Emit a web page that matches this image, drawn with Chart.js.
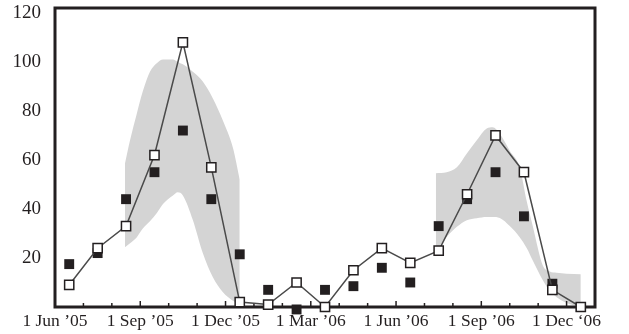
<!DOCTYPE html>
<html>
<head>
<meta charset="utf-8">
<script src="https://cdn.jsdelivr.net/npm/chart.js@4.4.0/dist/chart.umd.min.js"></script>
<style>
  html, body { margin: 0; padding: 0; background: #fff; }
  #chart { display: block; }
</style>
</head>
<body>
<canvas id="chart" width="629" height="334"></canvas>
<script>
// eixo x em meses a partir de 1 Jun '05
const tickLabels = ['1 Jun \u201905', '1 Sep \u201905', '1 Dec \u201905', '1 Mar \u201906', '1 Jun \u201906', '1 Sep \u201906', '1 Dec \u201806'];

// amostras no meio de cada mes
const sampleMonths = [0.5, 1.5, 2.5, 3.5, 4.5, 5.5, 6.5, 7.5, 8.5, 9.5, 10.5, 11.5, 12.5, 13.5, 14.5, 15.5, 16.5, 17.5, 18.5];
const predicted = [9, 24, 33, 62, 108, 57, 2, 1, 10, 0, 15, 24, 18, 23, 46, 70, 55, 7, 0];
const observed = [17.5, 22, 44, 55, 72, 44, 21.5, 7, -1, 7, 8.5, 16, 10, 33, 44, 55, 37, 9.5, 0];

// faixa cinza (intervalo) - primeira estacao
const band1Months = [2.46, 2.64, 2.88, 3.09, 3.34, 3.59, 3.80, 4.15, 4.32, 4.50, 4.85, 5.20, 5.56, 5.91, 6.26, 6.50];
const band1Upper = [58.5, 68, 79, 88, 96, 99.6, 101, 101, 100, 99, 96, 92, 85, 76, 65, 52];
const band1Lower = [24.4, 26, 28.5, 32, 35, 38.5, 42, 45.5, 46.8, 45.5, 35.5, 22, 12, 6, 2.5, 1];

// faixa cinza - segunda estacao
const band2Months = [13.40, 13.78, 14.14, 14.49, 14.84, 15.19, 15.40, 15.65, 16.00, 16.35, 16.60, 16.81, 17.16, 17.41, 17.65, 18.00, 18.50];
const band2Upper = [54.6, 55, 57, 62.6, 68, 72.8, 73.3, 70.7, 63.8, 57, 43, 33, 17, 14.5, 14, 13.6, 13.4];
const band2Lower = [23, 28.6, 32.7, 35.4, 36.2, 36.7, 36.7, 36.3, 33, 28.5, 24, 19, 11, 6.5, 4, 1.6, 0];

const inkColor = '#231f20';
const bandColor = '#d4d4d4';
const serif = "'Liberation Serif', 'Times New Roman', serif";

function pts(xs, ys) {
  return xs.map((x, i) => ({ x: x, y: ys[i] }));
}

// moldura e marcas internas do eixo x (desenhadas antes dos pontos)
const framePlugin = {
  id: 'frame',
  beforeDatasetDraw(chart, args) {
    if (args.index !== 1) return;
    const { ctx, chartArea } = chart;
    const xScale = chart.scales.x;
    ctx.save();
    ctx.strokeStyle = inkColor;
    ctx.lineWidth = 1.5;
    xScale.ticks.forEach(t => {
      if (t.value <= 0 || t.value >= xScale.max) return;
      const px = xScale.getPixelForValue(t.value);
      const len = t.value % 3 === 0 ? 6 : 4;
      ctx.beginPath();
      ctx.moveTo(px, chartArea.bottom);
      ctx.lineTo(px, chartArea.bottom - len);
      ctx.stroke();
    });
    ctx.lineWidth = 3;
    ctx.strokeRect(chartArea.left, chartArea.top, chartArea.right - chartArea.left, chartArea.bottom - chartArea.top);
    ctx.restore();
  }
};

const ctx = document.getElementById('chart').getContext('2d');
new Chart(ctx, {
  type: 'line',
  data: {
    datasets: [
      {
        data: pts(sampleMonths, predicted),
        borderColor: '#4a4a4a',
        borderWidth: 1.5,
        tension: 0,
        pointStyle: 'rect',
        pointRadius: 6.5,
        pointBackgroundColor: '#ffffff',
        pointBorderColor: inkColor,
        pointBorderWidth: 1.5,
        fill: false,
        clip: false
      },
      {
        data: pts(sampleMonths, observed),
        showLine: false,
        pointStyle: 'rect',
        pointRadius: 7,
        pointBackgroundColor: inkColor,
        pointBorderWidth: 0,
        fill: false,
        clip: false
      },
      {
        data: pts(band1Months, band1Lower),
        borderWidth: 0,
        pointRadius: 0,
        cubicInterpolationMode: 'monotone',
        fill: false
      },
      {
        data: pts(band1Months, band1Upper),
        borderWidth: 0,
        pointRadius: 0,
        cubicInterpolationMode: 'monotone',
        backgroundColor: bandColor,
        fill: '-1'
      },
      {
        data: pts(band2Months, band2Lower),
        borderWidth: 0,
        pointRadius: 0,
        cubicInterpolationMode: 'monotone',
        fill: false
      },
      {
        data: pts(band2Months, band2Upper),
        borderWidth: 0,
        pointRadius: 0,
        cubicInterpolationMode: 'monotone',
        backgroundColor: bandColor,
        fill: '-1'
      }
    ]
  },
  options: {
    responsive: false,
    animation: false,
    events: [],
    layout: { padding: { top: 7, right: 34, left: 0, bottom: 0 } },
    plugins: {
      legend: { display: false },
      tooltip: { enabled: false }
    },
    scales: {
      x: {
        type: 'linear',
        min: 0,
        max: 19,
        afterFit(scale) {
          scale.height = 27;
          scale.paddingLeft = 0;
          scale.paddingRight = 0;
        },
        grid: { display: false, drawTicks: false },
        border: { display: false },
        ticks: {
          stepSize: 1,
          autoSkip: false,
          maxRotation: 0,
          includeBounds: false,
          padding: 4,
          color: inkColor,
          font: { family: serif, size: 17.5 },
          callback: v => (v % 3 === 0 ? tickLabels[v / 3] : '')
        }
      },
      y: {
        min: 0,
        max: 122,
        afterFit(scale) {
          scale.width = 55;
          scale.paddingTop = 0;
          scale.paddingBottom = 0;
        },
        grid: { display: false, drawTicks: false },
        border: { display: false },
        ticks: {
          stepSize: 20,
          includeBounds: false,
          padding: 14,
          color: inkColor,
          font: { family: serif, size: 19 },
          callback: v => (v === 0 ? '' : v)
        }
      }
    }
  },
  plugins: [framePlugin]
});
</script>
</body>
</html>
